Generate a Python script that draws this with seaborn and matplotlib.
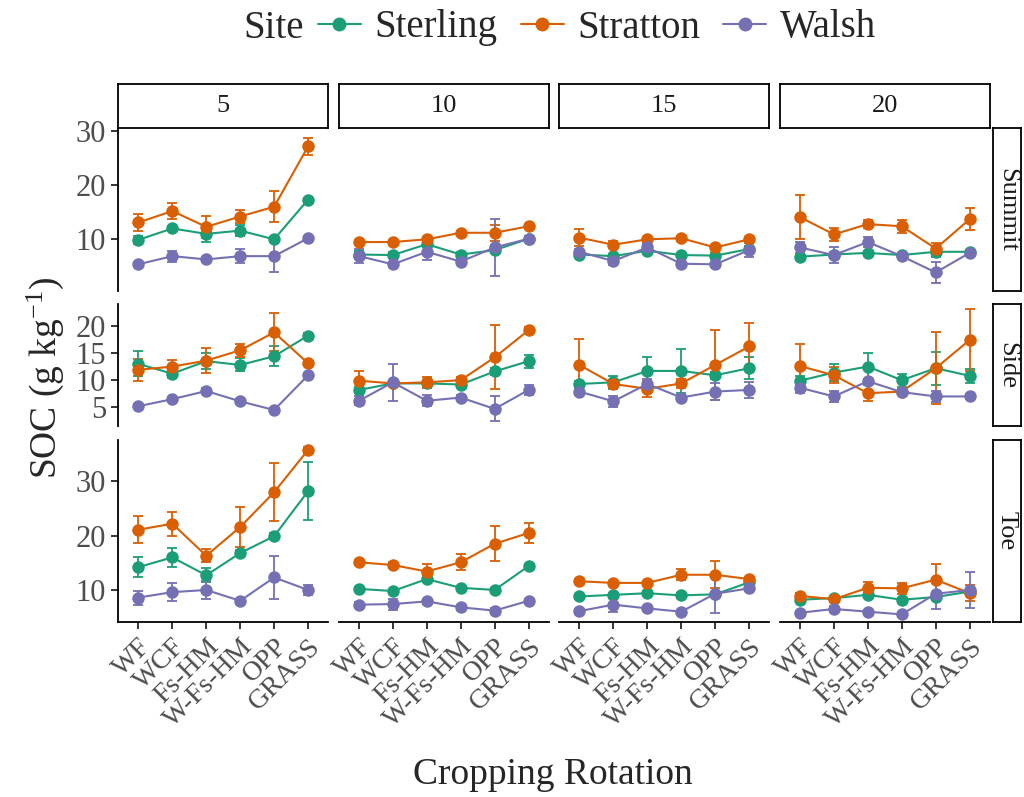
import numpy as np
import pandas as pd
import seaborn as sns
import matplotlib.pyplot as plt
from matplotlib.lines import Line2D

# data
rotations = ["WF", "WCF", "Fs-HM", "W-Fs-HM", "OPP", "GRASS"]
depths = [5, 10, 15, 20]
positions = ["Summit", "Side", "Toe"]
sites = ["Sterling", "Stratton", "Walsh"]

# mean SOC, one list of 6 rotations per depth (5, 10, 15, 20)
sterling_summit = [[9.9, 12.0, 11.0, 11.6, 10.0, 17.3], [7.2, 7.1, 9.1, 7.2, 8.0, 10.1],
                   [7.2, 6.9, 7.9, 7.1, 7.0, 8.2], [6.8, 7.2, 7.5, 7.1, 7.7, 7.7]]
stratton_summit = [[13.1, 15.2, 12.3, 14.2, 16.0, 27.1], [9.5, 9.5, 10.0, 11.2, 11.2, 12.4],
                   [10.3, 9.0, 10.0, 10.2, 8.5, 10.0], [14.1, 10.9, 12.8, 12.4, 8.3, 13.7]]
walsh_summit = [[5.4, 6.9, 6.3, 6.9, 6.9, 10.2], [6.9, 5.4, 7.7, 5.9, 8.5, 10.1],
                [7.7, 6.0, 8.5, 5.5, 5.4, 8.0], [8.5, 7.1, 9.5, 6.9, 3.9, 7.5]]

sterling_side = [[13.0, 11.2, 13.5, 12.8, 14.4, 18.2], [8.2, 9.4, 9.4, 9.2, 11.6, 13.5],
                 [9.3, 9.6, 11.7, 11.7, 10.9, 12.2], [9.9, 11.4, 12.5, 10.0, 12.2, 10.8]]
stratton_side = [[11.9, 12.5, 13.6, 15.5, 18.8, 13.1], [9.9, 9.4, 9.6, 10.0, 14.2, 19.2],
                 [12.8, 9.3, 8.4, 9.4, 12.8, 16.2], [12.6, 10.9, 7.6, 7.9, 12.2, 17.4]]
walsh_side = [[5.2, 6.5, 8.0, 6.1, 4.5, 10.9], [6.2, 9.6, 6.2, 6.8, 4.7, 8.2],
              [7.9, 6.1, 9.3, 6.8, 7.9, 8.2], [8.6, 7.0, 9.8, 7.8, 7.0, 7.0]]

sterling_toe = [[14.2, 16.0, 12.7, 16.8, 19.9, 28.2], [10.2, 9.8, 12.0, 10.4, 10.0, 14.4],
                [8.8, 9.1, 9.4, 9.0, 9.2, 11.4], [8.2, 8.5, 9.1, 8.2, 8.7, 9.7]]
stratton_toe = [[21.1, 22.2, 16.3, 21.6, 28.0, 35.8], [15.1, 14.6, 13.4, 15.1, 18.5, 20.5],
                [11.6, 11.3, 11.3, 12.8, 12.8, 12.0], [8.9, 8.3, 10.4, 10.3, 11.9, 9.4]]
walsh_toe = [[8.6, 9.6, 10.0, 8.0, 12.3, 10.0], [7.3, 7.4, 7.9, 6.8, 6.2, 8.0],
             [6.1, 7.3, 6.6, 6.0, 9.3, 10.3], [5.8, 6.5, 6.0, 5.5, 9.3, 10.0]]

# standard errors, same layout
sterling_summit_se = [[0.8, 0.5, 1.5, 1.0, 0.5, 0.4], [0.6, 0.5, 0.5, 0.5, 0.6, 0.4],
                      [0.4, 0.4, 0.5, 0.4, 0.4, 0.5], [0.3, 0.4, 0.4, 0.4, 1.0, 0.3]]
stratton_summit_se = [[1.5, 1.5, 2.0, 1.2, 2.9, 1.5], [0.4, 0.4, 0.5, 0.4, 1.5, 0.4],
                      [1.6, 0.6, 0.5, 0.5, 0.4, 0.5], [4.0, 1.2, 0.8, 1.2, 1.0, 2.0]]
walsh_summit_se = [[0.5, 1.0, 0.5, 1.3, 2.9, 0.5], [1.3, 0.5, 1.5, 0.5, 5.3, 0.5],
                   [0.5, 0.8, 0.6, 0.5, 0.5, 1.3], [1.0, 1.5, 1.0, 0.5, 2.0, 0.5]]

sterling_side_se = [[2.3, 0.8, 1.5, 1.2, 1.8, 0.4], [0.6, 0.5, 0.5, 0.5, 0.6, 1.2],
                    [0.6, 1.2, 2.5, 4.0, 0.6, 2.0], [0.8, 1.5, 2.5, 1.2, 3.0, 1.3]]
stratton_side_se = [[2.0, 1.3, 2.3, 1.2, 3.5, 0.5], [1.8, 0.5, 1.0, 0.5, 5.9, 0.5],
                    [4.8, 0.8, 1.5, 0.8, 6.4, 4.4], [4.0, 1.5, 1.5, 0.5, 6.6, 5.7]]
walsh_side_se = [[0.4, 0.4, 0.5, 0.4, 0.4, 0.4], [0.8, 3.4, 1.0, 0.5, 2.3, 1.0],
                 [0.6, 1.0, 1.0, 0.5, 1.5, 1.5], [1.0, 1.0, 0.5, 0.4, 1.0, 0.4]]

sterling_toe_se = [[1.8, 1.7, 1.3, 0.5, 0.6, 5.3], [0.4, 0.4, 0.5, 0.4, 0.4, 0.4],
                   [0.4, 0.4, 0.4, 0.4, 0.4, 0.4], [0.4, 0.4, 0.4, 0.4, 0.6, 0.5]]
stratton_toe_se = [[2.5, 2.2, 1.2, 3.7, 5.3, 0.5], [0.5, 0.5, 1.3, 1.5, 3.2, 1.8],
                   [0.4, 0.4, 0.4, 1.0, 2.5, 0.4], [0.5, 0.4, 1.0, 1.0, 2.8, 1.5]]
walsh_toe_se = [[1.3, 1.7, 1.7, 0.4, 4.0, 1.0], [0.4, 1.0, 0.4, 0.4, 0.4, 0.4],
                [0.4, 1.3, 0.4, 0.4, 3.5, 0.5], [0.4, 0.5, 0.4, 0.4, 2.8, 3.4]]

means = {("Summit", "Sterling"): sterling_summit, ("Summit", "Stratton"): stratton_summit,
         ("Summit", "Walsh"): walsh_summit, ("Side", "Sterling"): sterling_side,
         ("Side", "Stratton"): stratton_side, ("Side", "Walsh"): walsh_side,
         ("Toe", "Sterling"): sterling_toe, ("Toe", "Stratton"): stratton_toe,
         ("Toe", "Walsh"): walsh_toe}
ses = {("Summit", "Sterling"): sterling_summit_se, ("Summit", "Stratton"): stratton_summit_se,
       ("Summit", "Walsh"): walsh_summit_se, ("Side", "Sterling"): sterling_side_se,
       ("Side", "Stratton"): stratton_side_se, ("Side", "Walsh"): walsh_side_se,
       ("Toe", "Sterling"): sterling_toe_se, ("Toe", "Stratton"): stratton_toe_se,
       ("Toe", "Walsh"): walsh_toe_se}

rows = []
for (pos, site), vals in means.items():
    for di, d in enumerate(depths):
        for ri, rot in enumerate(rotations):
            rows.append({"Position": pos, "Site": site, "Depth": d, "Rotation": rot,
                         "SOC": vals[di][ri], "SE": ses[(pos, site)][di][ri]})
df = pd.DataFrame(rows)

sns.set_theme(style="ticks")
plt.rcParams["font.family"] = ["Liberation Serif", "DejaVu Serif"]
plt.rcParams["mathtext.fontset"] = "custom"
plt.rcParams["mathtext.rm"] = "Liberation Serif"
plt.rcParams["mathtext.it"] = "Liberation Serif:italic"

palette = {"Sterling": "#1B9E77", "Stratton": "#D95F02", "Walsh": "#7570B3"}
ylims = {"Summit": (0.5, 30.5), "Side": (1.5, 24.0), "Toe": (4.1, 37.7)}
yticks = {"Summit": [10, 20, 30], "Side": [5, 10, 15, 20], "Toe": [10, 20, 30]}
ratios = [ylims[p][1] - ylims[p][0] for p in positions]

W, H = 1024, 797
fig, axes = plt.subplots(3, 4, figsize=(W / 100, H / 100), dpi=100, sharey="row",
                         gridspec_kw={"height_ratios": ratios, "wspace": 0.048,
                                      "hspace": 0.085})
fig.subplots_adjust(left=118 / W, right=990 / W, top=1 - 128 / H, bottom=1 - 622 / H)

tick_col = "#4D4D4D"
for i, pos in enumerate(positions):
    for j, d in enumerate(depths):
        ax = axes[i, j]
        sub = df[(df.Position == pos) & (df.Depth == d)]
        for site in sites:
            s = sub[sub.Site == site]
            ax.errorbar(s.Rotation, s.SOC, yerr=s.SE, fmt="none", ecolor=palette[site],
                        elinewidth=1.3, capsize=3.5, capthick=1.3, zorder=2)
        sns.lineplot(data=sub, x="Rotation", y="SOC", hue="Site", hue_order=sites,
                     palette=palette, marker="o", markersize=9, markeredgewidth=0,
                     linewidth=1.5, legend=False, sort=False, ax=ax, zorder=3)
        ax.set_xlim(-0.6, 5.6)
        ax.set_ylim(*ylims[pos])
        ax.set_yticks(yticks[pos])
        ax.set_xlabel("")
        ax.set_ylabel("")
        ax.spines["top"].set_visible(False)
        ax.spines["right"].set_visible(False)
        for sp in ("left", "bottom"):
            ax.spines[sp].set_color("black")
            ax.spines[sp].set_linewidth(1.3)
        ax.tick_params(colors="black", labelcolor=tick_col, labelsize=22, width=1.1, length=5)
        if j > 0:
            ax.spines["left"].set_visible(False)
            ax.tick_params(axis="y", left=False, labelleft=False)
        if i < 2:
            ax.spines["bottom"].set_visible(False)
            ax.tick_params(axis="x", bottom=False, labelbottom=False)
        else:
            ax.tick_params(axis="x", labelsize=20)
            for lab in ax.get_xticklabels():
                lab.set_rotation(45)
                lab.set_ha("right")
                lab.set_rotation_mode("anchor")

# facet strips
for j, d in enumerate(depths):
    p = axes[0, j].get_position()
    sax = fig.add_axes([p.x0, p.y1 + 0.5 / H, p.width, 44 / H])
    sax.set_xticks([])
    sax.set_yticks([])
    for sp in sax.spines.values():
        sp.set_color("black")
        sp.set_linewidth(1.3)
    sax.text(0.5, 0.5, str(d), ha="center", va="center", fontsize=19, color="#1A1A1A",
             transform=sax.transAxes)
for i, pos in enumerate(positions):
    p = axes[i, 3].get_position()
    sax = fig.add_axes([p.x1 + 3 / W, p.y0, 28 / W, p.height])
    sax.set_xticks([])
    sax.set_yticks([])
    for sp in sax.spines.values():
        sp.set_color("black")
        sp.set_linewidth(1.3)
    sax.text(0.5, 0.5, pos, ha="center", va="center", rotation=-90, fontsize=19,
             color="#1A1A1A", transform=sax.transAxes)

fig.text(553 / W, 1 - 775 / H, "Cropping Rotation", ha="center", va="center", fontsize=27)
fig.text(45 / W, 1 - 378 / H, "SOC (g kg$^{\\mathrm{-1}}$)", ha="center", va="center",
         rotation=90, fontsize=27)

# legend on top
fig.text(243 / W, 1 - 28 / H, "Site", ha="left", va="center", fontsize=28)
handles = [Line2D([0], [0], color=palette[s], marker="o", markersize=9, linewidth=1.5)
           for s in sites]
fig.legend(handles, sites, loc="center left", bbox_to_anchor=(318 / W, 1 - 28 / H),
           ncol=3, frameon=False, fontsize=28, handlelength=1.1, handletextpad=0.35,
           columnspacing=0.6, borderaxespad=0, borderpad=0)

fig.savefig("out.png", dpi=100)
